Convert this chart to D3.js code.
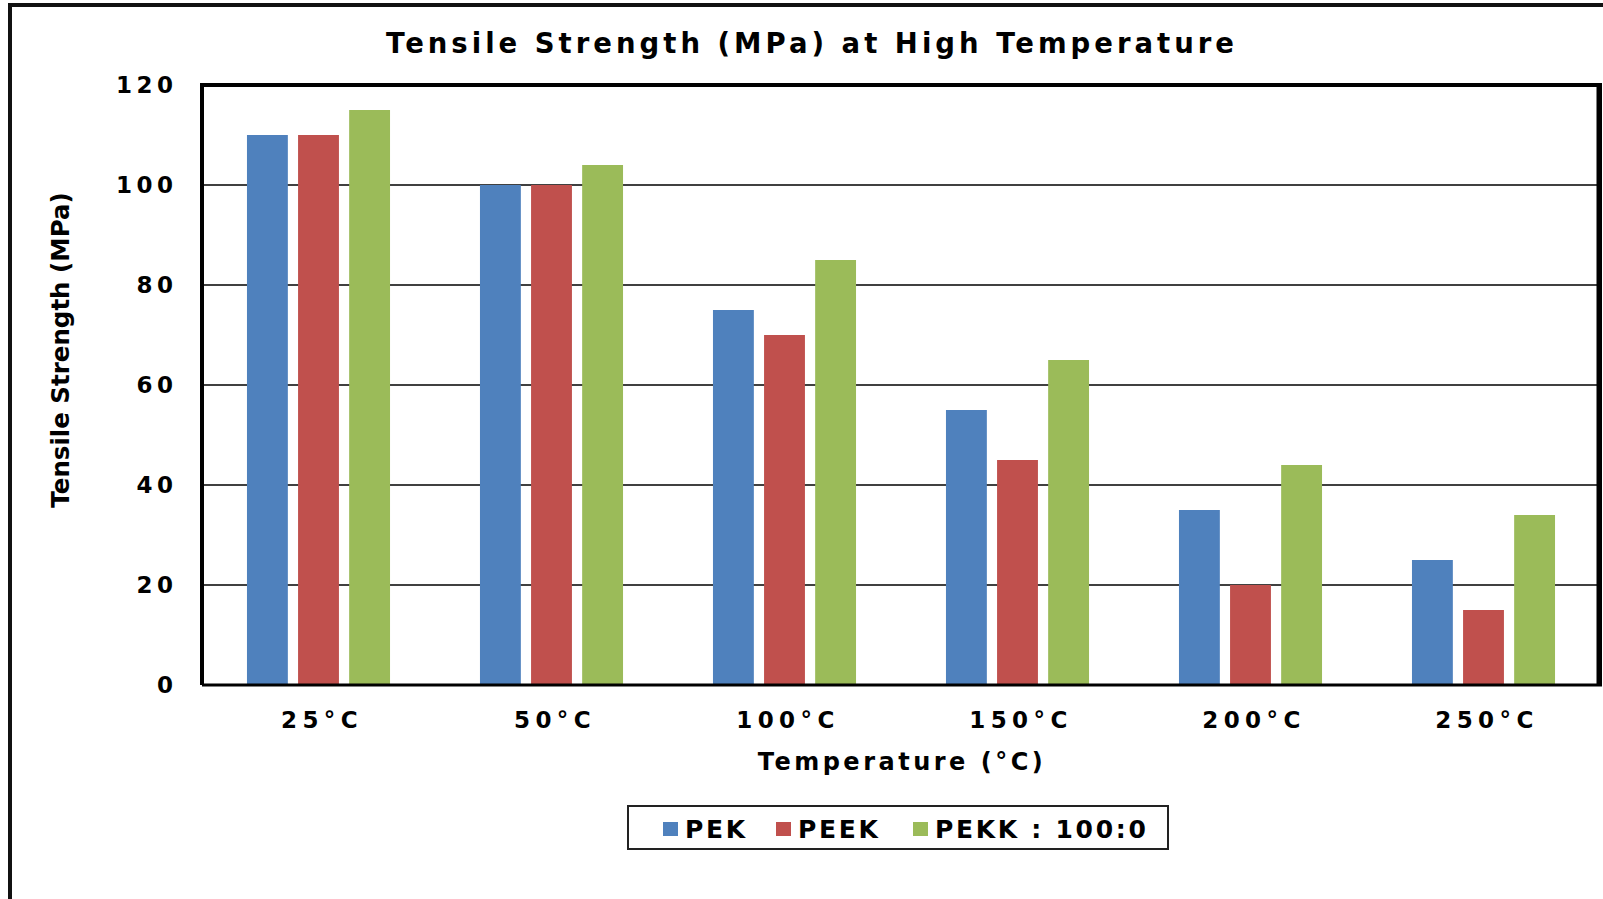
<!DOCTYPE html>
<html>
<head>
<meta charset="utf-8">
<script src="https://cdn.jsdelivr.net/npm/d3@7"></script>
<style>
  body { margin: 0; background: #fff; }
  svg text { font-family: "DejaVu Sans", Verdana, sans-serif; font-weight: bold; fill: #000; }
</style>
</head>
<body>
<div id="chart"></div>
<script>
// data
var temps = ["25°C", "50°C", "100°C", "150°C", "200°C", "250°C"];
var seriesNames = ["PEK", "PEEK", "PEKK : 100:0"];
var pek  = [110, 100, 75, 55, 35, 25];
var peek = [110, 100, 70, 45, 20, 15];
var pekk = [115, 104, 85, 65, 44, 34];
var yTicks = [0, 20, 40, 60, 80, 100, 120];

var seriesColors = ["#4F81BD", "#C0504D", "#9BBB59"];

var svgwidth = 1603, svgheight = 899;
var margin = {top: 85, right: 3, bottom: 214, left: 202},
    width = svgwidth - margin.left - margin.right,
    height = svgheight - margin.top - margin.bottom;

var rows = temps.map(function(t, i) {
    return {temp: t, values: [pek[i], peek[i], pekk[i]]};
});

var x0 = d3.scaleBand()
    .domain(temps)
    .range([0, width])
    .paddingInner(0.386)
    .paddingOuter(0.193);

var x1 = d3.scaleBand()
    .domain(seriesNames)
    .range([0, x0.bandwidth()])
    .paddingInner(0.2);

var y = d3.scaleLinear()
    .domain([0, 120])
    .range([height, 0]);

var color = d3.scaleOrdinal().domain(seriesNames).range(seriesColors);

var root = d3.select("#chart").append("svg")
    .attr("width", svgwidth)
    .attr("height", svgheight);

// outer frame
root.append("rect")
    .attr("x", 10).attr("y", 5)
    .attr("width", svgwidth + 20).attr("height", svgheight + 20)
    .attr("fill", "none")
    .attr("stroke", "#111")
    .attr("stroke-width", 4);

root.append("text")
    .attr("x", 812).attr("y", 53)
    .attr("text-anchor", "middle")
    .style("font-size", "27.5px")
    .style("letter-spacing", "4px")
    .text("Tensile Strength (MPa) at High Temperature");

var svg = root.append("g")
    .attr("transform", "translate(" + margin.left + "," + margin.top + ")");

// gridlines
svg.selectAll(".grid")
    .data(yTicks.filter(function(d) { return d > 0 && d < 120; }))
  .enter().append("line")
    .attr("class", "grid")
    .attr("x1", 0).attr("x2", width)
    .attr("y1", function(d) { return y(d); })
    .attr("y2", function(d) { return y(d); })
    .attr("stroke", "#000")
    .attr("stroke-width", 1.5);

// bars
svg.selectAll(".group")
    .data(rows)
  .enter().append("g")
    .attr("class", "group")
    .attr("transform", function(d) { return "translate(" + x0(d.temp) + ",0)"; })
  .selectAll("rect")
    .data(function(d) { return d.values.map(function(v, i) { return {name: seriesNames[i], value: v}; }); })
  .enter().append("rect")
    .attr("x", function(d) { return x1(d.name); })
    .attr("width", x1.bandwidth())
    .attr("y", function(d) { return y(d.value); })
    .attr("height", function(d) { return height - y(d.value); })
    .style("fill", function(d) { return color(d.name); });

// plot frame
svg.append("path")
    .attr("d", "M0," + height + "V0H" + width + "V" + height)
    .attr("fill", "none")
    .attr("stroke", "#000")
    .attr("stroke-width", 4);
svg.append("line")
    .attr("x1", 0).attr("x2", width + 2)
    .attr("y1", height).attr("y2", height)
    .attr("stroke", "#000")
    .attr("stroke-width", 3);
svg.append("line")
    .attr("x1", width - 1).attr("x2", width - 1)
    .attr("y1", 0).attr("y2", height)
    .attr("stroke", "#000")
    .attr("stroke-width", 5);

var yAxis = d3.axisLeft(y).tickValues(yTicks).tickSize(0).tickPadding(24.5);
svg.append("g")
    .attr("class", "y axis")
    .call(yAxis)
    .call(function(g) { g.select(".domain").remove(); })
  .selectAll("text")
    .style("font-size", "23px")
    .style("letter-spacing", "4.5px");

var xAxis = d3.axisBottom(x0).tickSize(0);
svg.append("g")
    .attr("class", "x axis")
    .attr("transform", "translate(0," + height + ")")
    .call(xAxis)
    .call(function(g) { g.select(".domain").remove(); })
  .selectAll("text")
    .attr("x", 3.5)
    .attr("y", 43)
    .attr("dy", 0)
    .style("font-size", "23px")
    .style("letter-spacing", "5.4px");

root.append("text")
    .attr("transform", "translate(69,350) rotate(-90)")
    .attr("text-anchor", "middle")
    .style("font-size", "24.5px")
    .text("Tensile Strength (MPa)");

root.append("text")
    .attr("x", 902).attr("y", 770)
    .attr("text-anchor", "middle")
    .style("font-size", "24px")
    .style("letter-spacing", "3.5px")
    .text("Temperature (°C)");

// legend
var legend = root.append("g").attr("class", "legend");
legend.append("rect")
    .attr("x", 628).attr("y", 806)
    .attr("width", 540).attr("height", 43)
    .attr("fill", "#fff")
    .attr("stroke", "#222")
    .attr("stroke-width", 2);

var legendX = [663, 776, 913];
var items = legend.selectAll(".item")
    .data(seriesNames)
  .enter().append("g")
    .attr("class", "item")
    .attr("transform", function(d, i) { return "translate(" + legendX[i] + ",822)"; });
items.append("rect")
    .attr("width", 15).attr("height", 14)
    .style("fill", function(d) { return color(d); });
items.append("text")
    .attr("x", 22).attr("y", 16)
    .style("font-size", "25px")
    .style("letter-spacing", "2.7px")
    .text(function(d) { return d; });
</script>
</body>
</html>
